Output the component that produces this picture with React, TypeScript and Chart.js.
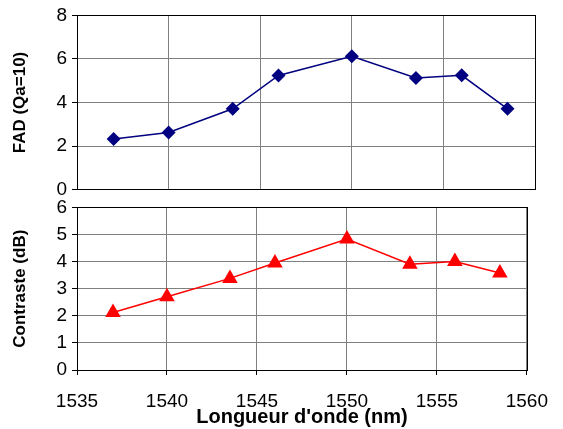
import React, { useEffect, useRef } from "react";
import { Chart, registerables } from "chart.js";

Chart.register(...registerables);

const wavelengths = [1537, 1540, 1543.5, 1546, 1550, 1553.5, 1556, 1558.5];
const fadValues = [2.32, 2.62, 3.71, 5.24, 6.12, 5.13, 5.25, 3.71];
const contrastValues = [2.12, 2.7, 3.38, 3.95, 4.83, 3.9, 4.0, 3.58];
const xMin = 1535;
const xMax = 1560;
const xStep = 5;
const fadMax = 8;
const fadStep = 2;
const contrastMax = 6;
const contrastStep = 1;
const fadTitle = "FAD (Qa=10)";
const contrastTitle = "Contraste (dB)";
const xTitle = "Longueur d'onde (nm)";

const FONT = "'Liberation Sans', Arial, Helvetica, sans-serif";
const GRID = "#808080";

const framePlugin = {
  id: "frame",
  beforeDatasetsDraw(chart: any) {
    const { ctx, chartArea } = chart;
    ctx.save();
    ctx.strokeStyle = "#000000";
    ctx.lineWidth = 1;
    ctx.strokeRect(
      Math.round(chartArea.left) + 0.5,
      Math.round(chartArea.top) + 0.5,
      Math.round(chartArea.right - chartArea.left),
      Math.round(chartArea.bottom - chartArea.top)
    );
    ctx.restore();
  },
};

function makeOptions(
  yMax: number,
  yStep: number,
  yTitle: string,
  showX: boolean,
  padTop: number,
  padBottom: number
): any {
  return {
    responsive: false,
    animation: false,
    layout: { padding: { left: 0, right: 28, top: padTop, bottom: padBottom } },
    plugins: { legend: { display: false }, tooltip: { enabled: false } },
    scales: {
      x: {
        type: "linear",
        min: xMin,
        max: xMax,
        ticks: {
          display: showX,
          stepSize: xStep,
          color: "#000000",
          padding: 15,
          maxRotation: 0,
          font: { family: FONT, size: 19 },
          callback: (v: any) => String(v),
        },
        grid: {
          color: GRID,
          lineWidth: 1,
          drawTicks: showX,
          tickLength: 5,
          tickColor: "#000000",
        },
        border: { color: "#000000", width: 1 },
        title: {
          display: showX,
          text: xTitle,
          color: "#000000",
          padding: { top: 0, bottom: 0 },
          font: { family: FONT, size: 20, weight: "bold" },
        },
        afterFit: (s: any) => {
          s.height = showX ? 59 : 0;
        },
      },
      y: {
        min: 0,
        max: yMax,
        ticks: {
          stepSize: yStep,
          color: "#000000",
          padding: 5,
          font: { family: FONT, size: 19 },
          callback: (v: any) => String(v),
        },
        grid: {
          color: GRID,
          lineWidth: 1,
          tickLength: 5,
          tickColor: "#000000",
        },
        border: { color: "#000000", width: 1 },
        title: {
          display: true,
          text: yTitle,
          color: "#000000",
          padding: { top: 10, bottom: 0 },
          font: { family: FONT, size: 17, weight: "bold" },
        },
        afterFit: (s: any) => {
          s.width = 77;
        },
      },
    },
  };
}

export default function App() {
  const topRef = useRef<HTMLCanvasElement | null>(null);
  const botRef = useRef<HTMLCanvasElement | null>(null);

  useEffect(() => {
    const top = new Chart(topRef.current as HTMLCanvasElement, {
      type: "line",
      data: {
        datasets: [
          {
            data: wavelengths.map((x, i) => ({ x, y: fadValues[i] })),
            borderColor: "#000080",
            backgroundColor: "#000080",
            borderWidth: 1.5,
            pointStyle: "rectRot",
            pointRadius: 7,
            pointBorderWidth: 0,
            fill: false,
            tension: 0,
          },
        ],
      },
      options: makeOptions(fadMax, fadStep, fadTitle, false, 13, 5),
      plugins: [framePlugin],
    } as any);

    const bot = new Chart(botRef.current as HTMLCanvasElement, {
      type: "line",
      data: {
        datasets: [
          {
            data: wavelengths.map((x, i) => ({ x, y: contrastValues[i] })),
            borderColor: "#FF0000",
            backgroundColor: "#FF0000",
            borderWidth: 1.5,
            pointStyle: "triangle",
            pointRadius: 9,
            pointBorderWidth: 0,
            fill: false,
            tension: 0,
          },
        ],
      },
      options: makeOptions(contrastMax, contrastStep, contrastTitle, true, 9, 0),
      plugins: [framePlugin],
    } as any);

    return () => {
      top.destroy();
      bot.destroy();
    };
  }, []);

  return (
    <div
      style={{
        position: "fixed",
        left: 0,
        top: 0,
        width: 563,
        height: 429,
        background: "#ffffff",
        overflow: "hidden",
      }}
    >
      <canvas
        ref={topRef}
        width={563}
        height={207}
        style={{ position: "absolute", left: 0, top: -1, width: 563, height: 207 }}
      />
      <canvas
        ref={botRef}
        width={563}
        height={238}
        style={{ position: "absolute", left: 0, top: 191, width: 563, height: 238 }}
      />
    </div>
  );
}
